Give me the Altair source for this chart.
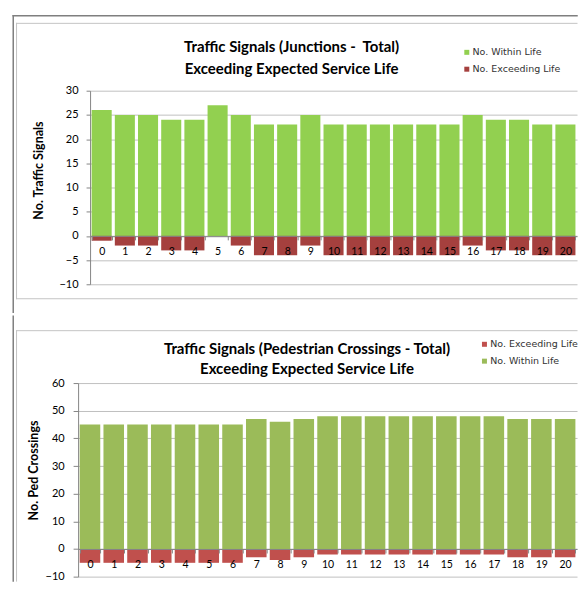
import altair as alt
import pandas as pd

categories = list(range(21))
junc_within = [26, 25, 25, 24, 24, 27, 25, 23, 23, 25, 23, 23, 23, 23, 23, 23, 25, 24, 24, 23, 23]
junc_exceed = [-1, -2, -2, -3, -3, 0, -2, -4, -4, -2, -4, -4, -4, -4, -4, -4, -2, -3, -3, -4, -4]
ped_within = [45, 45, 45, 45, 45, 45, 45, 47, 46, 47, 48, 48, 48, 48, 48, 48, 48, 48, 47, 47, 47]
ped_exceed = [-5, -5, -5, -5, -5, -5, -5, -3, -4, -3, -2, -2, -2, -2, -2, -2, -2, -2, -3, -3, -3]

S_WITHIN = "No. Within Life"
S_EXCEED = "No. Exceeding Life"

title1 = ["Traffic Signals (Junctions - \u00a0Total)", "Exceeding Expected Service Life"]
title2 = ["Traffic Signals (Pedestrian Crossings - Total)", "Exceeding Expected Service Life"]
ytitle1 = "No. Traffic Signals"
ytitle2 = "No. Ped Crossings"
yticks1 = [-10, -5, 0, 5, 10, 15, 20, 25, 30]
yticks2 = [-10, 0, 10, 20, 30, 40, 50, 60]


def long_df(within, exceed):
    rows = []
    for c, w, e in zip(categories, within, exceed):
        rows.append({"cat": c, "series": S_WITHIN, "value": w})
        rows.append({"cat": c, "series": S_EXCEED, "value": e})
    return pd.DataFrame(rows)


DUMMY = alt.Data(values=[{"a": 1}])
OUTER = "#7F7F7F"
INNER = "#C4C4C4"
AXIS = "#868686"
GRID = "#C0C0C0"


def hrule(x1, x2, y, color, w):
    return alt.Chart(DUMMY).mark_rule(color=color, strokeWidth=w, strokeCap="square").encode(
        x=alt.value(x1), x2=alt.value(x2), y=alt.value(y))


def vrule(x, y1, y2, color, w):
    return alt.Chart(DUMMY).mark_rule(color=color, strokeWidth=w, strokeCap="square").encode(
        x=alt.value(x), y=alt.value(y1), y2=alt.value(y2))


def label(text, x, y, size, angle=0):
    kw = dict(text=text, font="Lato", fontSize=size, fontWeight="bold", align="center",
              color="#000")
    if angle:
        kw["angle"] = angle
        kw["baseline"] = "middle"
    else:
        kw["baseline"] = "alphabetic"
    return alt.Chart(DUMMY).mark_text(**kw).encode(x=alt.value(x), y=alt.value(y))


def panel(df, W, H, xrange, yoff, ydom, yvals, tick, lpad, xoff, dom, rng, lx, ly, extra):
    bars = alt.Chart(df).mark_bar().encode(
        x=alt.X("cat:O", title=None,
                scale=alt.Scale(range=xrange, paddingInner=0.135, paddingOuter=0.0675),
                axis=alt.Axis(labelAngle=0, offset=xoff, tickBand="extent", tickSize=4,
                              tickColor=AXIS, domainColor=AXIS, labelFont="Lato",
                              labelFontSize=10.5, labelColor="#000", labelBaseline="middle",
                              labelPadding=11.5, zindex=1, grid=False)),
        y=alt.Y("value:Q", stack=None, title=None,
                scale=alt.Scale(domain=ydom, nice=False, zero=False),
                axis=alt.Axis(values=yvals, offset=yoff,
                              labelFont="Lato", labelFontSize=11, labelColor="#000",
                              labelPadding=lpad, tickSize=tick, tickColor=AXIS, domainColor=AXIS,
                              gridColor=GRID, grid=True)),
        color=alt.Color("series:N", scale=alt.Scale(domain=dom, range=rng),
                        legend=alt.Legend(title=None, orient="none", legendX=lx, legendY=ly,
                                          symbolType="square", symbolSize=25, symbolStrokeWidth=0,
                                          labelFont="DejaVu Sans", labelFontSize=9.5,
                                          labelColor="#333333", labelOffset=1, rowPadding=5.9,
                                          padding=0)),
    )
    return alt.layer(*extra, bars).properties(width=W, height=H)


# both panels share the plot origin at page x = 77
W, H1, H2 = 500, 194, 194

extra1 = [
    hrule(-65, W, -75, OUTER, 1.5),
    vrule(-65, -75, 222, OUTER, 1.5),
    hrule(-61.7, W, -67.5, INNER, 1),
    vrule(-61.7, -67.5, 208.5, INNER, 1),
    hrule(-61.7, W, 208.5, INNER, 1),
    label(title1[0], 214, -38.8, 15),
    label(title1[1], 214, -17.1, 15),
    label(ytitle1, -38.7, 80, 12.5, angle=270),
]
p1 = panel(long_df(junc_within, junc_exceed), W, H1, [12, W], -12, [-10, 30], yticks1,
           4, 8, -48.5, [S_WITHIN, S_EXCEED], ["#92D050", "#A5403E"],
           384.8, -43.2, extra1)

extra2 = [
    vrule(-65, -67, 198.5, OUTER, 1.5),
    hrule(-61.7, W, -52.5, INNER, 1),
    vrule(-61.7, -52.5, 198.5, INNER, 1),
    label(title2[0], 229.4, -29.5, 15),
    label(title2[1], 229.4, -8.9, 15),
    label(ytitle2, -43.7, 87.6, 12.5, angle=270),
]
p2 = panel(long_df(ped_within, ped_exceed), W, H2, [0, W], 0, [-10, 60], yticks2,
           5, 9, -(H2 - 60 * H2 / 70), [S_EXCEED, S_WITHIN], ["#C0504D", "#9BBB59"],
           402.5, -43.6, extra2)

chart = alt.vconcat(p1, p2, spacing=0).resolve_scale(
    x="independent", y="independent", color="independent"
).resolve_legend(color="independent").configure_view(strokeWidth=0).properties(
    padding={"left": 3.25, "top": 5.25, "right": 0, "bottom": 0}, background="white"
)

chart.save("out.html", embed_options={"renderer": "svg", "actions": False})
